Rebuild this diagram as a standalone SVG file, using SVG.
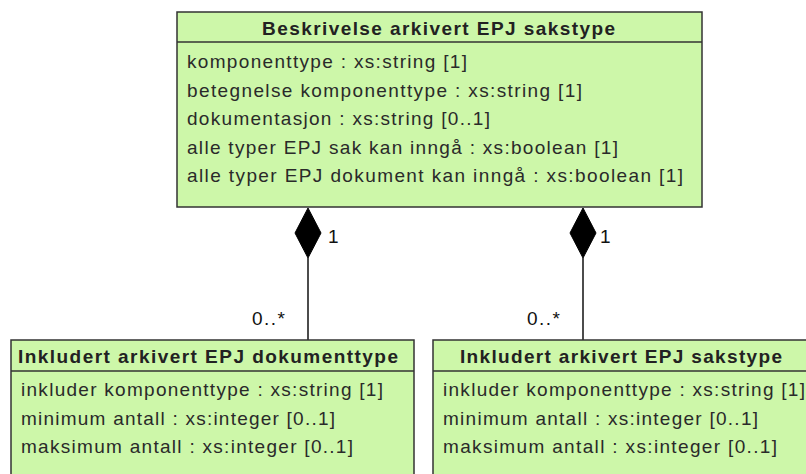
<svg xmlns="http://www.w3.org/2000/svg" width="806" height="474" viewBox="0 0 806 474">
<style>
  .box { fill: #cdf7a9; stroke: #333333; stroke-width: 1.5; }
  .div { stroke: #333333; stroke-width: 1.5; }
  .hdr { font-family: "Liberation Sans", Arial, sans-serif; font-size: 19px; font-weight: bold; fill: #222222; }
  .attr { font-family: "Liberation Sans", Arial, sans-serif; font-size: 19px; fill: #2a2a2a; }
  .lbl { font-family: "Liberation Sans", Arial, sans-serif; font-size: 19px; fill: #111111; }
  .conn { stroke: #111111; stroke-width: 1.5; fill: none; }
  .dia { fill: #000000; stroke: #000000; stroke-width: 1; }
</style>
<rect width="806" height="474" fill="#ffffff"/>

<g id="connectors">
  <g id="c1">
    <line class="conn" x1="308" y1="258" x2="308" y2="340"/>
    <polygon class="dia" points="308,208 321,233 308,258 295,233"/>
    <text class="lbl" x="328" y="243">1</text>
    <text class="lbl" x="252" y="325" textLength="33">0..*</text>
  </g>
  <g id="c2">
    <line class="conn" x1="583" y1="258" x2="583" y2="340"/>
    <polygon class="dia" points="583,208 596,233 583,258 570,233"/>
    <text class="lbl" x="600" y="243">1</text>
    <text class="lbl" x="527" y="325" textLength="33">0..*</text>
  </g>
</g>

<g id="beskrivelse">
  <rect class="box" x="177" y="12" width="525" height="195"/>
  <line class="div" x1="177" y1="42" x2="702" y2="42"/>
  <text class="hdr" x="262" y="35" textLength="353">Beskrivelse arkivert EPJ sakstype</text>
  <text class="attr" x="187" y="68" textLength="280">komponenttype : xs:string [1]</text>
  <text class="attr" x="187" y="96.5" textLength="395">betegnelse komponenttype : xs:string [1]</text>
  <text class="attr" x="187" y="125" textLength="303">dokumentasjon : xs:string [0..1]</text>
  <text class="attr" x="187" y="153.5" textLength="431">alle typer EPJ sak kan inngå : xs:boolean [1]</text>
  <text class="attr" x="187" y="182" textLength="496">alle typer EPJ dokument kan inngå : xs:boolean [1]</text>
</g>

<g id="dokumenttype">
  <rect class="box" x="11" y="340" width="403" height="150"/>
  <line class="div" x1="11" y1="371" x2="414" y2="371"/>
  <text class="hdr" x="18" y="363" textLength="380">Inkludert arkivert EPJ dokumenttype</text>
  <text class="attr" x="21" y="396" textLength="362">inkluder komponenttype : xs:string [1]</text>
  <text class="attr" x="21" y="424.5" textLength="314">minimum antall : xs:integer [0..1]</text>
  <text class="attr" x="21" y="453" textLength="332">maksimum antall : xs:integer [0..1]</text>
</g>

<g id="sakstype">
  <rect class="box" x="433" y="340" width="380" height="150"/>
  <line class="div" x1="433" y1="371" x2="813" y2="371"/>
  <text class="hdr" x="460" y="363" textLength="322">Inkludert arkivert EPJ sakstype</text>
  <text class="attr" x="443" y="396" textLength="362">inkluder komponenttype : xs:string [1]</text>
  <text class="attr" x="443" y="424.5" textLength="315">minimum antall : xs:integer [0..1]</text>
  <text class="attr" x="443" y="453" textLength="334">maksimum antall : xs:integer [0..1]</text>
</g>
</svg>
